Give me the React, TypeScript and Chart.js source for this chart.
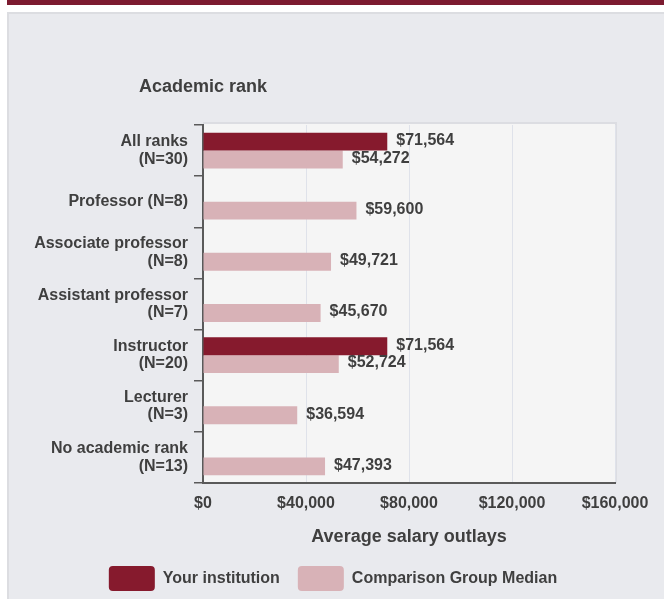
import React, { useEffect, useRef } from 'react';
import { Chart, registerables } from 'chart.js';

Chart.register(...registerables);

// ---- data ----
const categories: (string | string[])[] = [
  ['All ranks', '(N=30)'],
  'Professor (N=8)',
  ['Associate professor', '(N=8)'],
  ['Assistant professor', '(N=7)'],
  ['Instructor', '(N=20)'],
  ['Lecturer', '(N=3)'],
  ['No academic rank', '(N=13)'],
];
const yourInstitution: (number | null)[] = [71564, null, null, null, 71564, null, null];
const comparisonMedian: number[] = [54272, 59600, 49721, 45670, 52724, 36594, 47393];
const xTickValues: number[] = [0, 40000, 80000, 120000, 160000];
const seriesNames: string[] = ['Your institution', 'Comparison Group Median'];
const yAxisTitle = 'Academic rank';
const xAxisTitle = 'Average salary outlays';

// ---- styles ----
const FONT = "'Liberation Sans', Arial, sans-serif";
const TEXT = '#3f3f3f';
const DARK = '#861a2d';
const PINK = '#d8b2b7';

const fmt = (v: number) => '$' + v.toLocaleString('en-US');

const plotBackground = {
  id: 'plotBackground',
  afterLayout(chart: any) {
    // centre the legend under the area to the right of the panel edge
    const lg = chart.legend;
    if (lg) {
      lg.left = 51;
      lg.right = 615;
      lg.width = 564;
    }
  },
  beforeDraw(chart: any) {
    const { ctx, chartArea: a } = chart;
    ctx.save();
    ctx.fillStyle = '#f5f5f5';
    ctx.fillRect(a.left, a.top - 2, a.right - a.left + 1, a.bottom - a.top + 2);
    ctx.strokeStyle = '#dcdde2';
    ctx.lineWidth = 2;
    ctx.beginPath();
    ctx.moveTo(a.left, a.top - 2);
    ctx.lineTo(a.right + 1, a.top - 2);
    ctx.lineTo(a.right + 1, a.bottom);
    ctx.stroke();
    ctx.restore();
  },
};

const extras = {
  id: 'extras',
  afterDatasetsDraw(chart: any) {
    const ctx = chart.ctx;
    ctx.save();
    ctx.font = `bold 16px ${FONT}`;
    ctx.fillStyle = TEXT;
    ctx.textBaseline = 'middle';
    ctx.textAlign = 'left';
    chart.data.datasets.forEach((ds: any, i: number) => {
      const meta = chart.getDatasetMeta(i);
      meta.data.forEach((el: any, j: number) => {
        const v = ds.data[j];
        if (v == null) return;
        ctx.fillText(fmt(v), el.x + 9, el.y - 1);
      });
    });
    ctx.restore();
  },
  afterDraw(chart: any) {
    const ctx = chart.ctx;
    ctx.save();
    ctx.font = `bold 18px ${FONT}`;
    ctx.fillStyle = TEXT;
    ctx.textBaseline = 'middle';
    ctx.textAlign = 'center';
    ctx.fillText(yAxisTitle, chart.chartArea.left, 87);
    ctx.restore();
  },
};

export default function App() {
  const ref = useRef<HTMLCanvasElement | null>(null);

  useEffect(() => {
    if (!ref.current) return;
    const chart = new Chart(ref.current, {
      type: 'bar',
      data: {
        labels: categories,
        datasets: [
          {
            label: seriesNames[0],
            data: yourInstitution,
            backgroundColor: DARK,
            barPercentage: 1,
            categoryPercentage: 0.7,
          },
          {
            label: seriesNames[1],
            data: comparisonMedian,
            backgroundColor: PINK,
            barPercentage: 1,
            categoryPercentage: 0.7,
          },
        ],
      },
      options: {
        indexAxis: 'y',
        responsive: false,
        animation: false,
        devicePixelRatio: 1,
        layout: { padding: { top: 125, right: 49, left: 0, bottom: 3 } },
        plugins: {
          tooltip: { enabled: false },
          title: { display: false },
          legend: {
            position: 'bottom',
            labels: {
              boxWidth: 46,
              boxHeight: 25,
              padding: 18,
              useBorderRadius: true,
              borderRadius: 4,
              color: TEXT,
              font: { family: FONT, size: 16, weight: 'bold' },
            },
          },
        },
        scales: {
          x: {
            type: 'linear',
            min: 0,
            max: 160000,
            afterBuildTicks: (scale: any) => {
              scale.ticks = xTickValues.map((v) => ({ value: v }));
            },
            afterFit: (scale: any) => {
              scale.height = 65;
            },
            grid: { color: '#dfe2ea', lineWidth: 1, drawTicks: false },
            border: { color: '#5a5a5a', width: 2 },
            ticks: {
              padding: 11,
              color: TEXT,
              font: { family: FONT, size: 16, weight: 'bold' },
              callback: (v: any) => fmt(Number(v)),
              maxRotation: 0,
            },
            title: {
              display: true,
              text: xAxisTitle,
              color: TEXT,
              padding: { top: 0, bottom: 0 },
              font: { family: FONT, size: 18, weight: 'bold', lineHeight: 1.2 },
            },
          },
          y: {
            afterFit: (scale: any) => {
              scale.width = 203;
            },
            grid: {
              drawOnChartArea: false,
              drawTicks: true,
              tickLength: 9,
              color: '#5a5a5a',
              lineWidth: 1.5,
            },
            border: { color: '#5a5a5a', width: 2 },
            ticks: {
              padding: 6,
              color: TEXT,
              font: { family: FONT, size: 16, weight: 'bold', lineHeight: 1.1 },
            },
          },
        },
      },
      plugins: [plotBackground, extras],
    } as any);
    return () => chart.destroy();
  }, []);

  return (
    <div
      style={{
        position: 'absolute',
        left: 0,
        top: 0,
        width: 664,
        height: 599,
        overflow: 'hidden',
        background: '#ffffff',
      }}
    >
      <div style={{ position: 'absolute', left: 7, top: 0, right: 0, height: 5, background: '#7c1b30' }} />
      <div
        style={{
          position: 'absolute',
          left: 7,
          top: 12,
          width: 700,
          height: 700,
          background: '#e9eaee',
          borderLeft: '2px solid #dcdde1',
          borderTop: '2px solid #dcdde1',
        }}
      />
      <canvas
        ref={ref}
        width={664}
        height={604}
        style={{ position: 'absolute', left: 0, top: 0, width: 664, height: 604, display: 'block' }}
      />
    </div>
  );
}
